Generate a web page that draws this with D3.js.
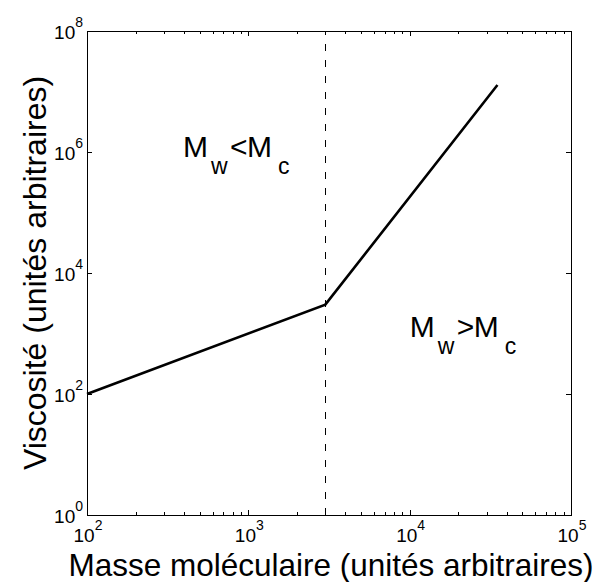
<!DOCTYPE html>
<html><head><meta charset="utf-8">
<script src="https://cdn.jsdelivr.net/npm/d3@7"></script>
<style>body{margin:0;background:#fff}svg{display:block}text{font-family:"Liberation Sans",Arial,sans-serif;fill:#000}</style>
</head><body>
<svg id="c" width="608" height="582"></svg>
<script>
// data
const massValues = [100, 3000, 35000];
const viscosityValues = [100, 3000, 1.28e7];
const criticalMass = 3000;
const xTickExponents = [2, 3, 4, 5];
const yTickExponents = [0, 2, 4, 6, 8];
const xLabel = "Masse moléculaire (unités arbitraires)";
const yLabel = "Viscosité (unités arbitraires)";
const annotationX = [394, 1.0e4];
const annotationY = [8.3e5, 875];
const annotationOps = ["<", ">"];

const svg = d3.select("#c");
const L = 87, R = 571, T = 31, B = 515;
const x = d3.scaleLog().domain([1e2, 1e5]).range([L, R]);
const y = d3.scaleLog().domain([1e0, 1e8]).range([B, T]);

const g = svg.append("g");
// frame
g.append("rect").attr("x", L + 0.5).attr("y", T + 0.5).attr("width", R - L).attr("height", B - T)
  .attr("fill", "none").attr("stroke", "#000").attr("stroke-width", 1);

// ticks
const xMinor = [];
for (let e = 2; e < 5; e++) for (let k = 2; k <= 9; k++) xMinor.push(k * Math.pow(10, e));
const xMajor = xTickExponents.map(e => Math.pow(10, e));
function tickLines(vals, len, isX) {
  vals.forEach(v => {
    if (isX) {
      const px = Math.round(x(v)) + 0.5;
      g.append("line").attr("x1", px).attr("x2", px).attr("y1", B).attr("y2", B - len).attr("stroke", "#000");
      g.append("line").attr("x1", px).attr("x2", px).attr("y1", T).attr("y2", T + len).attr("stroke", "#000");
    } else {
      const py = Math.round(y(v)) + 0.5;
      g.append("line").attr("y1", py).attr("y2", py).attr("x1", L).attr("x2", L + len).attr("stroke", "#000");
      g.append("line").attr("y1", py).attr("y2", py).attr("x1", R).attr("x2", R - len).attr("stroke", "#000");
    }
  });
}
tickLines(xMinor, 3, true);
tickLines(xMajor, 5, true);
tickLines(yTickExponents.map(e => Math.pow(10, e)), 5, false);

// tick labels
xTickExponents.forEach(e => {
  const t = g.append("text").attr("x", x(Math.pow(10, e)) + 1).attr("y", B + 27)
    .attr("text-anchor", "middle").style("font-size", "19px");
  t.append("tspan").text("10");
  t.append("tspan").attr("dy", -12).style("font-size", "14px").text(e);
});
yTickExponents.forEach(e => {
  const t = g.append("text").attr("x", L - 4).attr("y", y(Math.pow(10, e)) + 8)
    .attr("text-anchor", "end").style("font-size", "19px");
  t.append("tspan").text("10");
  t.append("tspan").attr("dy", -12).style("font-size", "14px").text(e);
});

// axis labels
svg.append("text").attr("x", 331).attr("y", 576).attr("text-anchor", "middle")
  .style("font-size", "31.5px").text(xLabel);
svg.append("text").attr("transform", "translate(46,273) rotate(-90)").attr("text-anchor", "middle")
  .style("font-size", "32px").text(yLabel);

// dashed critical mass
g.append("line").attr("x1", Math.round(x(criticalMass)) + 0.5).attr("x2", Math.round(x(criticalMass)) + 0.5)
  .attr("y1", B).attr("y2", T)
  .attr("stroke", "#000").attr("stroke-width", 1).attr("stroke-dasharray", "7,9");

// curve
const line = d3.line().x((d, i) => x(massValues[i])).y((d, i) => y(viscosityValues[i]));
g.append("path").datum(massValues).attr("d", line).attr("fill", "none")
  .attr("stroke", "#000").attr("stroke-width", 2.6).attr("stroke-linejoin", "miter");

// annotations  M_w <op> M_c
annotationX.forEach((ax, i) => {
  const x0 = x(ax), y0 = y(annotationY[i]);
  const a = g.append("g").attr("transform", `translate(${x0},${y0})`);
  a.append("text").attr("x", 0).attr("y", 0).style("font-size", "30px").text("M");
  a.append("text").attr("x", 28).attr("y", 17).style("font-size", "23px").text("w");
  a.append("text").attr("x", 47).attr("y", 0).style("font-size", "30px").text(annotationOps[i]);
  a.append("text").attr("x", 64).attr("y", 0).style("font-size", "30px").text("M");
  a.append("text").attr("x", 95).attr("y", 17).style("font-size", "23px").text("c");
});
</script>
</body></html>
